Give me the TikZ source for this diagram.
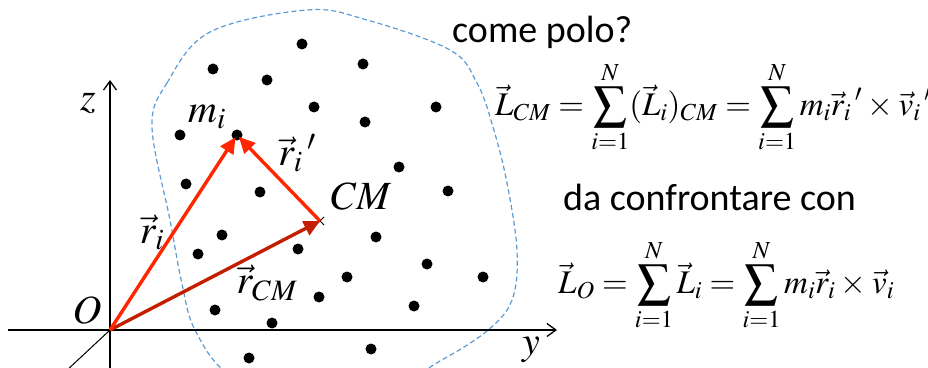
\documentclass[tikz,border=0pt]{standalone}
\usepackage{mathptmx}
\usepackage{fontspec}
\newfontfamily\calibri{Carlito}
\usepackage{amsmath}
\usepackage{tikz}
\usetikzlibrary{arrows.meta,shapes.misc}
\definecolor{vecred}{RGB}{255,38,0}
\definecolor{cmred}{RGB}{196,30,0}
\definecolor{bodyblue}{RGB}{91,155,213}
\thickmuskip=4mu\relax
\medmuskip=3mu\relax

\begin{document}
\begin{tikzpicture}[
  x=1pt, y=1pt,
  axis/.style={line width=1.3pt, -{Straight Barb[length=9pt,width=13pt]}},
  dot/.style={circle, fill=black, inner sep=0pt, minimum size=11pt},
  vec/.style={line width=3.4pt, vecred, -{Triangle[length=16pt,width=15pt]}},
  lbl/.style={font=\fontsize{40}{48}\selectfont, inner sep=0pt},
  eqn/.style={font=\fontsize{33}{40}\selectfont, inner sep=0pt},
  txt/.style={font=\calibri\fontsize{38}{46}\selectfont, inner sep=0pt}
]
  \useasboundingbox (0,0) rectangle (928,367);
  \clip (0,0) rectangle (928,367);

  % rigid body outline
  \draw[bodyblue, line width=1.2pt, dash pattern=on 5pt off 3pt]
    plot[smooth cycle, tension=0.6] coordinates {(152,240) (167,284) (210,335) (307,357)
      (367,347) (450,317) (477,284) (493,240) (507,184) (517,116) (512,67) (487,36)
      (440,6) (400,-13) (300,-28) (230,-8) (195,37) (182,83) (170,147)};

  % axes
  \coordinate (O) at (110,37);
  \coordinate (zlow) at (110,-5);
  \coordinate (ztop) at (110,287);
  \coordinate (yleft) at (8,37);
  \coordinate (yright) at (557,37);
  \coordinate (xlow) at (65,-5);
  \draw[axis] (zlow) -- (ztop);
  \draw[axis] (yleft) -- (yright);
  \draw[line width=1pt] (O) -- (xlow);
  \node[lbl] (zlab) at (88,264) {$z$};
  \node[lbl] (ylab) at (531,17) {$y$};
  \node[lbl] (olab) at (87,57) {$O$};

  % masses
  \foreach \px/\py in {302/44, 213/69, 363/64, 267/80, 314/107, 436/107, 365/122,
      180/135, 399/167, 186/184, 260/192, 448/191, 222/235, 198/254, 298/249,
      376/237, 427/264, 347/277, 483/277, 319/297, 414/306, 215/310, 272/323,
      371/349, 249/358}
    \node[dot] at (\px,367-\py) {};
  \node[dot] (mi) at (237,232) {};
  \node[lbl] (milab) at (207,250) {$m_i$};

  % centre of mass
  \coordinate (cm) at (320,146);
  \node[cross out, draw, line width=1pt, minimum size=7pt, inner sep=0pt] (cmx) at (cm) {};
  \node[lbl] (cmlab) at (361,171) {$CM$};

  % position vectors
  \draw[vec, cmred] (O) -- (cm);
  \draw[vec, shorten >=-3pt] (O) -- (mi);
  \draw[vec, shorten >=-3pt] (cm) -- (mi);
  \node[lbl] (rilab) at (152,135) {$\vec{r}_i$};
  \node[lbl] (rcmlab) at (267,84) {$\vec{r}_{CM}$};
  \node[lbl] (riplab) at (297,214) {$\vec{r}_i\,{}'$};

  % text and formulas
  \node[txt, anchor=base west] (polo) at (452,324) {come polo?};
  \node[eqn, anchor=west] (lcm) at (495,260)
    {$\displaystyle \vec{L}_{CM}=\sum_{i=1}^{N}(\vec{L}_i)_{CM}=\sum_{i=1}^{N}m_i\vec{r}_i\,{}'\times\vec{v}_i\,{}'$};
  \node[txt, anchor=base west] (conf) at (563,156) {da confrontare con};
  \node[eqn, anchor=west] (lo) at (558,82)
    {$\displaystyle \vec{L}_{O}=\sum_{i=1}^{N}\vec{L}_i=\sum_{i=1}^{N}m_i\vec{r}_i\times\vec{v}_i$};
\end{tikzpicture}
\end{document}
